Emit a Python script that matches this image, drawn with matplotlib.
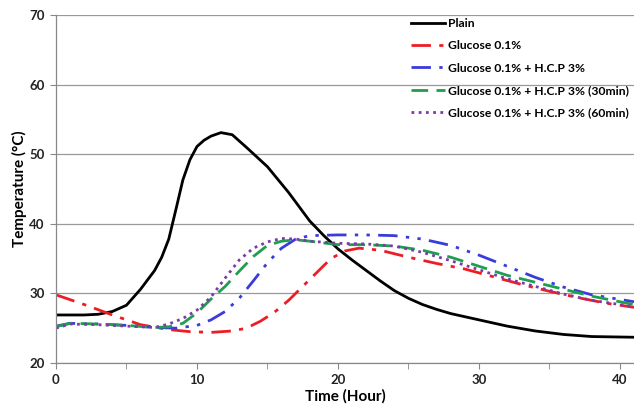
import numpy as np
import matplotlib.pyplot as plt
from matplotlib.ticker import MultipleLocator

# Temperature readings (deg C) against time (hours)
plain_t = [0, 2, 3, 4, 5, 6, 7, 7.5, 8, 8.5, 9, 9.5, 10, 10.5, 11, 11.7,
           12.5, 13.5, 15, 16.5, 18, 19, 20, 21, 22, 23, 24, 25, 26, 27, 28,
           30, 32, 34, 36, 38, 41]
plain_T = [26.9, 26.9, 27.0, 27.4, 28.3, 30.6, 33.3, 35.2, 37.8, 42.0, 46.3,
           49.2, 51.1, 52.0, 52.6, 53.1, 52.8, 51.0, 48.2, 44.5, 40.4, 38.3,
           36.4, 34.8, 33.3, 31.8, 30.4, 29.3, 28.4, 27.7, 27.1, 26.2, 25.3,
           24.6, 24.1, 23.8, 23.7]

glu_t = [0, 2, 4, 6, 8, 9.5, 11, 12.5, 13.5, 14.5, 15.5, 16.5, 17.5, 18.5,
         19.5, 20.5, 21.5, 23, 25, 27, 29, 31, 33, 35, 37, 39, 41]
glu_T = [29.8, 28.4, 26.9, 25.5, 24.8, 24.5, 24.4, 24.6, 25.0, 26.0, 27.3,
         29.0, 31.0, 33.0, 35.0, 36.1, 36.5, 36.2, 35.2, 34.3, 33.5, 32.4,
         31.3, 30.3, 29.4, 28.6, 28.0]

hcp_t = [0, 1, 3, 5, 7, 8.5, 10, 11, 12, 13, 14, 15, 16, 17, 18, 20, 22, 24,
         26, 28, 30, 32, 34, 36, 38, 41]
hcp_T = [25.3, 25.7, 25.6, 25.4, 25.1, 25.0, 25.4, 26.2, 27.4, 29.3, 31.8,
         34.4, 36.5, 37.8, 38.3, 38.4, 38.4, 38.3, 37.8, 36.9, 35.5, 33.9,
         32.3, 30.9, 29.8, 28.8]

h30_t = [0, 1, 3, 5, 7, 8, 9, 10, 11, 12, 13, 14, 15, 16, 17, 18, 20, 22,
         24, 26, 28, 30, 32, 34, 36, 38, 41]
h30_T = [25.2, 25.7, 25.6, 25.4, 25.1, 25.2, 25.7, 27.2, 29.2, 31.0, 33.2,
         35.3, 36.9, 37.5, 37.7, 37.5, 37.0, 37.0, 36.8, 36.2, 35.2, 33.9,
         32.6, 31.6, 30.6, 29.6, 28.4]

h60_t = [0, 1, 3, 5, 7, 8, 9, 10, 11, 12, 13, 14, 15, 16, 17, 18, 20, 22,
         24, 26, 28, 30, 32, 34, 36, 38, 41]
h60_T = [25.0, 25.6, 25.5, 25.3, 25.1, 25.6, 26.4, 27.6, 29.5, 32.2, 34.8,
         36.5, 37.4, 37.9, 37.8, 37.5, 37.2, 37.1, 36.8, 35.9, 34.7, 33.4,
         32.1, 31.0, 29.9, 29.0, 28.1]

labels = ['Plain', 'Glucose 0.1%', 'Glucose 0.1% + H.C.P 3%',
          'Glucose 0.1% + H.C.P 3% (30min)', 'Glucose 0.1% + H.C.P 3% (60min)']

plt.rcParams['font.family'] = ['Lato', 'DejaVu Sans']

fig = plt.figure(figsize=(6.34, 4.11), dpi=100)
ax = fig.add_axes([0.0883, 0.1168, 0.9117, 0.8467])

ax.plot(plain_t, plain_T, color='black', lw=2, label=labels[0])
ax.plot(glu_t, glu_T, color='#ee1c25', lw=2, dashes=(7, 3, 1.5, 3), label=labels[1])
ax.plot(hcp_t, hcp_T, color='#3b3bdc', lw=2, dashes=(7, 3, 1.2, 3, 1.2, 3), label=labels[2])
ax.plot(h30_t, h30_T, color='#1f9e4f', lw=2, dashes=(6, 3), label=labels[3])
ax.plot(h60_t, h60_T, color='#7b3aa6', lw=2, dashes=(1, 1.6), label=labels[4])

ax.set_xlim(0, 41)
ax.set_ylim(20, 70)
ax.set_xticks([0, 10, 20, 30, 40])
ax.set_xticks([5, 15, 25, 35], minor=True)
ax.yaxis.set_major_locator(MultipleLocator(10))
ax.tick_params(which='both', direction='out', length=4, color='#888888',
               labelsize=9.5, pad=4)
for lbl in ax.get_xticklabels() + ax.get_yticklabels():
    lbl.set_fontweight('bold')
    lbl.set_color('#222222')

ax.grid(axis='y', color='#999999', lw=0.9)
ax.set_axisbelow(True)
for side in ['top', 'right']:
    ax.spines[side].set_visible(False)
for side in ['left', 'bottom']:
    ax.spines[side].set_color('#888888')
    ax.spines[side].set_linewidth(0.9)

ax.set_xlabel('Time (Hour)', fontsize=11, fontweight='bold', labelpad=2)
ax.set_ylabel('Temperature (\u00b0C)', fontsize=11, fontweight='bold', labelpad=2)

leg = ax.legend(loc='upper left', bbox_to_anchor=(0.606, 1.005),
                frameon=False, handlelength=2.8, handletextpad=0.25,
                labelspacing=0.93, borderaxespad=0,
                prop={'weight': 'bold', 'size': 8.7})

fig.savefig('out.png', dpi=100)
